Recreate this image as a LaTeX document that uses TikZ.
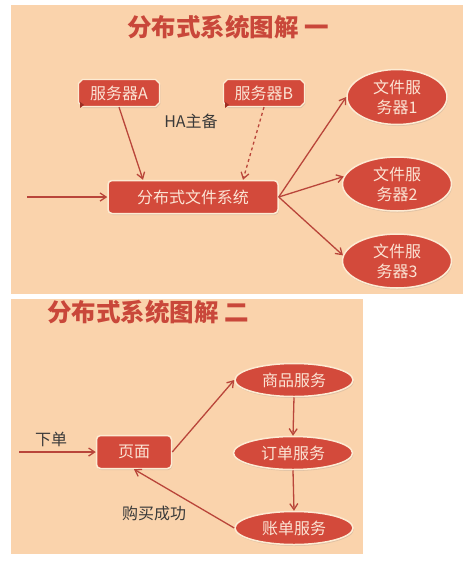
\documentclass[tikz,border=0pt]{standalone}
\usepackage{fontspec}
\setmainfont{Noto Sans CJK SC}
\newfontfamily\cjk{Noto Sans CJK SC}
\usetikzlibrary{shapes.geometric,shapes.misc,arrows.meta,shadows,calc}
\definecolor{panelbg}{HTML}{FAD3AC}
\definecolor{boxred}{HTML}{D34A3B}
\definecolor{folddark}{HTML}{9E2E24}
\definecolor{boxtext}{HTML}{FBE4D4}
\definecolor{rim}{HTML}{FDEBD3}
\definecolor{linkred}{HTML}{B9453A}
\definecolor{titlered}{HTML}{C9473A}
\definecolor{labelgray}{HTML}{3A3A3A}
\tikzset{
  basetext/.style={font=\cjk\fontsize{16}{20}\selectfont, text=boxtext, align=center, inner sep=0pt},
  softshadow/.style={drop shadow={opacity=0.22, shadow xshift=0.8pt, shadow yshift=-1.5pt}},
  serverbox/.style={basetext, chamfered rectangle, chamfered rectangle xsep=2pt,
    chamfered rectangle ysep=2pt,
    fill=boxred, draw=rim, line width=1.2pt, softshadow,
    minimum width=81pt, minimum height=27pt},
  roundbox/.style={basetext, rectangle, rounded corners=4pt, fill=boxred,
    draw=rim, line width=1.5pt, softshadow},
  oval/.style={basetext, ellipse, fill=boxred, draw=rim, line width=1.5pt, softshadow},
  link/.style={draw=linkred, line width=1.3pt, -{Straight Barb[length=6pt,width=8pt,line width=1.3pt]}},
  plainlabel/.style={font=\cjk\fontsize{16}{20}\selectfont, text=labelgray, inner sep=0pt},
  heading/.style={font=\cjk\bfseries\fontsize{24.5}{28}\selectfont, text=titlered, inner sep=0pt},
}
\begin{document}
\begin{tikzpicture}[x=1pt, y=-1pt]
  \useasboundingbox[fill=white] (0,0) rectangle (470,566);
  % two panels
  \fill[panelbg] (11,5) rectangle (463,294);
  \fill[panelbg] (11,299) rectangle (363,554);

  % ---------- first diagram ----------
  \node[heading] (t1) at (228,27) {分布式系统图解 一};

  \node[serverbox] (sa) at (119,93) {服务器A};
  \node[serverbox] (sb) at (264,93) {服务器B};
  \fill[folddark] (sa.south west) ++(0,-3) -- ++(4,3) -- ++(-4,3) -- cycle;
  \fill[folddark] (sb.south west) ++(0,-3) -- ++(4,3) -- ++(-4,3) -- cycle;

  \node[plainlabel] (ha) at (191,121) {HA主备};

  \node[roundbox, minimum width=170pt, minimum height=33pt] (fs) at (193,197) {分布式文件系统};

  \node[oval, minimum width=100pt, minimum height=55pt] (f1) at (397,97) {文件服\\务器1};
  \node[oval, minimum width=109pt, minimum height=54pt] (f2) at (397,184) {文件服\\务器2};
  \node[oval, minimum width=109pt, minimum height=54pt] (f3) at (397,261) {文件服\\务器3};

  \coordinate (in1) at (27,197);
  \draw[link] (in1) -- (fs.west);
  \draw[link] (sa.south) -- ([xshift=-50pt]fs.north);
  \draw[link, dashed] (sb.south) -- ([xshift=50pt]fs.north);
  \draw[link] (fs.east) -- (f1.west);
  \draw[link] (fs.east) -- (f2.172);
  \draw[link] (fs.east) -- (f3.174);

  % ---------- second diagram ----------
  \node[heading] (t2) at (148,312) {分布式系统图解 二};

  \node[roundbox, minimum width=75pt, minimum height=33pt] (pg) at (134,452) {页面};
  \node[oval, minimum width=118pt, minimum height=33pt] (sp) at (294,380) {商品服务};
  \node[oval, minimum width=119pt, minimum height=33pt] (dd) at (293,453) {订单服务};
  \node[oval, minimum width=118pt, minimum height=33pt] (zd) at (294,528) {账单服务};

  \node[plainlabel] (xd) at (51,439) {下单};
  \node[plainlabel] (ok) at (154,513) {购买成功};

  \coordinate (in2) at (19,452);
  \draw[link] (in2) -- (pg.west);
  \draw[link] (pg.east) -- (sp.west);
  \draw[link] (sp.south) -- (dd.north);
  \draw[link] (dd.south) -- (zd.north);
  \draw[link] (zd.west) -- (pg.south);
\end{tikzpicture}
\end{document}
